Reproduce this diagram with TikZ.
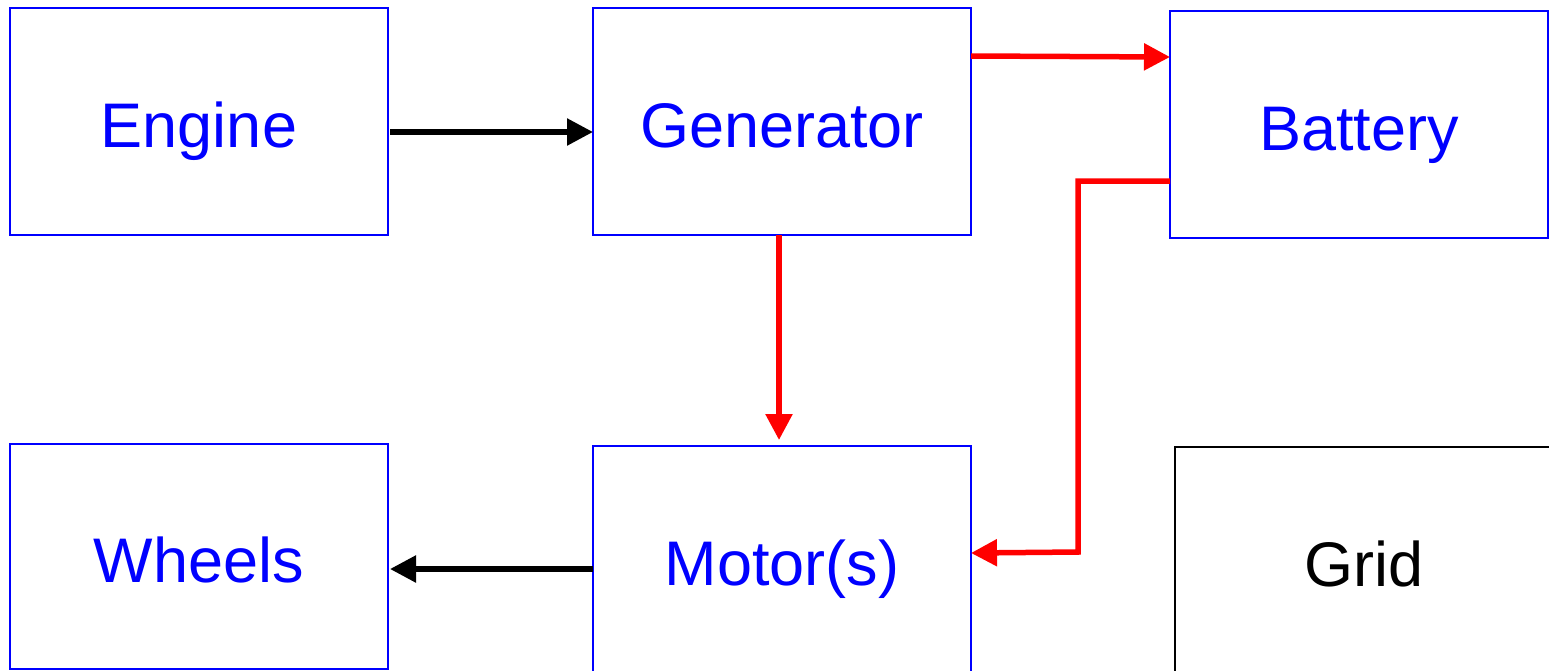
\documentclass[tikz,border=0pt]{standalone}
\usepackage{fontspec}
\setmainfont{Liberation Sans}
\usetikzlibrary{arrows.meta}
\begin{document}
\begin{tikzpicture}[x=1pt,y=-1pt,
  box/.style={draw=blue, line width=1.6pt, minimum width=378pt, minimum height=227pt, inner sep=0pt, outer sep=0pt, text=blue, font=\fontsize{63}{76}\selectfont, text height=51pt, text depth=0pt},
  gbox/.style={box, draw=black, text=black},
  conn/.style={line width=5.5pt, -{Triangle[length=26pt,width=26pt]}},
  redc/.style={conn, draw=red},
  blkc/.style={conn, draw=black}]
\useasboundingbox (0,0) rectangle (1549,670);
\node[box] (eng) at (199,121.5) {Engine};
\node[box] (gen) at (782,121.5) {Generator};
\node[box] (bat) at (1359,124.5) {Battery};
\node[box, minimum height=225pt] (whe) at (199,556.5) {Wheels};
\node[box] (mot) at (782,559.5) {Motor(s)};
\node[gbox] (grid) at (1364,560.5) {Grid};
\draw[blkc] ([xshift=2pt,yshift=-10.5pt]eng.east) -- ([yshift=-10.5pt]gen.west);
\draw[redc] ([yshift=65.5pt]gen.east) -- ([yshift=67.5pt]bat.west);
\draw[redc] ([xshift=-3pt]gen.south) -- ([xshift=-3pt,yshift=6pt]mot.north);
\draw[redc, line join=miter] ([yshift=-56.5pt]bat.west) -- ++(-92,0) coordinate (c1) -- (c1 |- 0,552) coordinate (c2) -- ([yshift=6.5pt]mot.east);
\draw[blkc] ([yshift=-9.5pt]mot.west) -- ([xshift=2pt,yshift=-12.5pt]whe.east);
\end{tikzpicture}
\end{document}
